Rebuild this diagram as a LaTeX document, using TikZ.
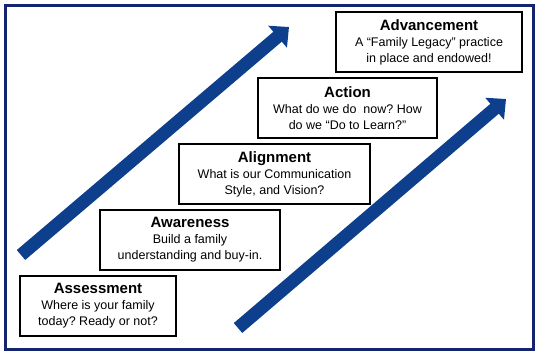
\documentclass[tikz,border=0pt]{standalone}
\usepackage{fontspec}
\setmainfont{Liberation Sans}
\usetikzlibrary{arrows.meta}
\definecolor{framenavy}{HTML}{14246E}
\definecolor{arrowblue}{HTML}{0E3F8C}
\frenchspacing
\tikzset{
  px/.style={x=1pt, y=-1pt},
  frame/.style={draw=framenavy, line width=3pt},
  stage/.style={draw=black, line width=2pt, fill=white, minimum height=60pt,
    inner sep=0pt, align=center, font=\fontsize{12.5}{16}\selectfont},
  bigarrow/.style={arrowblue, line width=13pt, -{Triangle[length=15pt,width=28pt]}},
}
\newcommand{\stagetitle}[1]{{\bfseries\fontsize{15}{16}\selectfont #1}}

\begin{document}
\begin{tikzpicture}[px]
  \useasboundingbox (0,0) rectangle (538,354);
  % --- outer frame ---
  \draw[frame] (5,5) rectangle (533,349);

  % --- the two rising arrows ---
  \coordinate (lowtail) at (21,255);
  \coordinate (lowtip)  at (289,27);
  \coordinate (hightail) at (238,328);
  \coordinate (hightip)  at (506,99);
  \draw[bigarrow] (lowtail) -- (lowtip);
  \draw[bigarrow] (hightail) -- (hightip);

  % --- stages, bottom to top ---
  \node[stage, minimum width=156pt] (assess) at (98,306)
    {\stagetitle{Assessment}\\Where is your family\\today? Ready or not?};
  \node[stage, minimum width=180pt] (aware) at (190,240)
    {\stagetitle{Awareness}\\Build a family\\understanding and buy-in.};
  \node[stage, minimum width=191pt] (align) at (274.5,174)
    {\stagetitle{Alignment}\\What is our Communication\\Style, and Vision?};
  \node[stage, minimum width=179pt] (action) at (347.5,108)
    {\stagetitle{Action}\\What do we do\ \ now? How\\do we “Do to Learn?”};
  \node[stage, minimum width=186pt] (advance) at (429,42)
    {\stagetitle{Advancement}\\A “Family Legacy” practice\\in place and endowed!};
\end{tikzpicture}
\end{document}
